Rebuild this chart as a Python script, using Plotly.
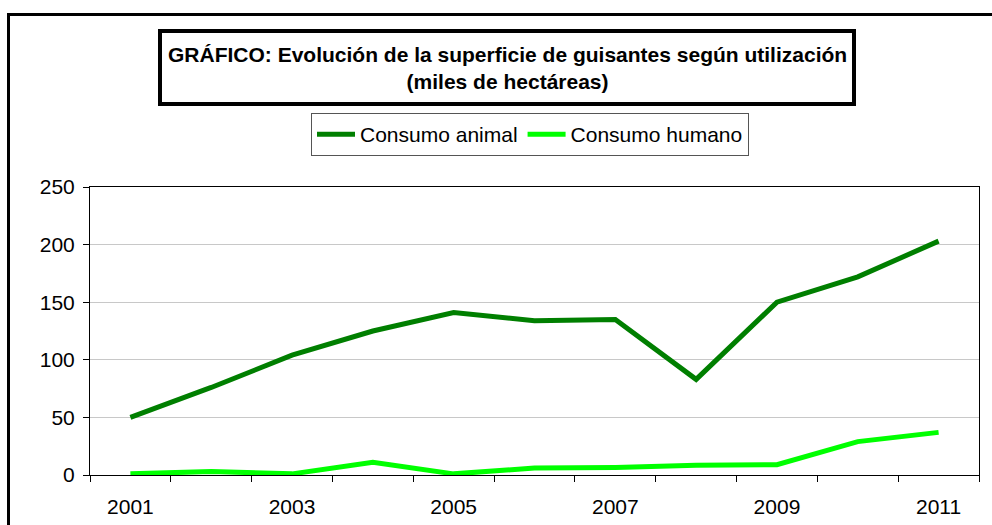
import plotly.graph_objects as go

years = [str(y) for y in range(2001, 2012)]
consumo_animal = [50, 76, 104, 125, 141, 134, 135, 83, 150, 172, 203]
consumo_humano = [1, 3, 1, 11, 1, 6, 6.5, 8.5, 9, 29, 37]
tick_text = [y if int(y) % 2 == 1 else "" for y in years]

W, H = 992, 525
L, R, T, B = 90, 13, 187, 50
pw, ph = W - L - R, H - T - B


def px_x(x):
    return (x - L) / pw


def px_y(y):
    return (H - B - y) / ph


FONT = "Liberation Sans, Arial, sans-serif"

fig = go.Figure()
fig.add_trace(go.Scatter(x=years, y=consumo_animal, mode="lines", name="Consumo animal",
                         line=dict(color="#007F00", width=5)))
fig.add_trace(go.Scatter(x=years, y=consumo_humano, mode="lines", name="Consumo humano",
                         line=dict(color="#00FF00", width=5)))

fig.update_layout(
    width=W, height=H,
    margin=dict(l=L, r=R, t=T, b=B, autoexpand=False),
    paper_bgcolor="white", plot_bgcolor="white",
    font=dict(family=FONT, size=21, color="black"),
    showlegend=True,
    legend=dict(orientation="h", x=px_x(311), y=px_y(113), xanchor="left", yanchor="top",
                bordercolor="#555555", borderwidth=1, bgcolor="white",
                font=dict(family=FONT, size=21), itemwidth=38, tracegroupgap=0),
    xaxis=dict(type="category", tickvals=years, ticktext=tick_text, tickson="boundaries",
               range=[-0.5, 10.5], automargin=False,
               ticks="outside", ticklen=6, tickcolor="black", tickwidth=1,
               showline=True, linecolor="black", linewidth=1, mirror=True,
               showgrid=False, zeroline=False, tickfont=dict(size=21),
               ticklabelstandoff=13),
    yaxis=dict(range=[0, 250], dtick=50, ticks="outside", ticklen=6, tickcolor="black",
               automargin=False,
               showline=True, linecolor="black", linewidth=1, mirror=True,
               showgrid=True, gridcolor="#C8C8C8", gridwidth=1, zeroline=False,
               tickfont=dict(size=21), ticklabelstandoff=4),
    shapes=[
        # outer frame
        dict(type="rect", xref="paper", yref="paper",
             x0=px_x(8.5), x1=px_x(1005), y0=px_y(540), y1=px_y(14.5),
             line=dict(color="black", width=3), fillcolor="rgba(0,0,0,0)", layer="above"),
        # title box
        dict(type="rect", xref="paper", yref="paper",
             x0=px_x(160), x1=px_x(854), y0=px_y(104), y1=px_y(31),
             line=dict(color="black", width=4), fillcolor="white"),
    ],
    annotations=[
        dict(text="<b>GRÁFICO: Evolución de la superficie de guisantes según utilización<br>(miles de hectáreas)</b>",
             xref="paper", yref="paper", x=px_x(507), y=px_y(68),
             xanchor="center", yanchor="middle", showarrow=False,
             font=dict(family=FONT, size=21, color="black"), align="center"),
    ],
)

fig.write_html("out.html")
